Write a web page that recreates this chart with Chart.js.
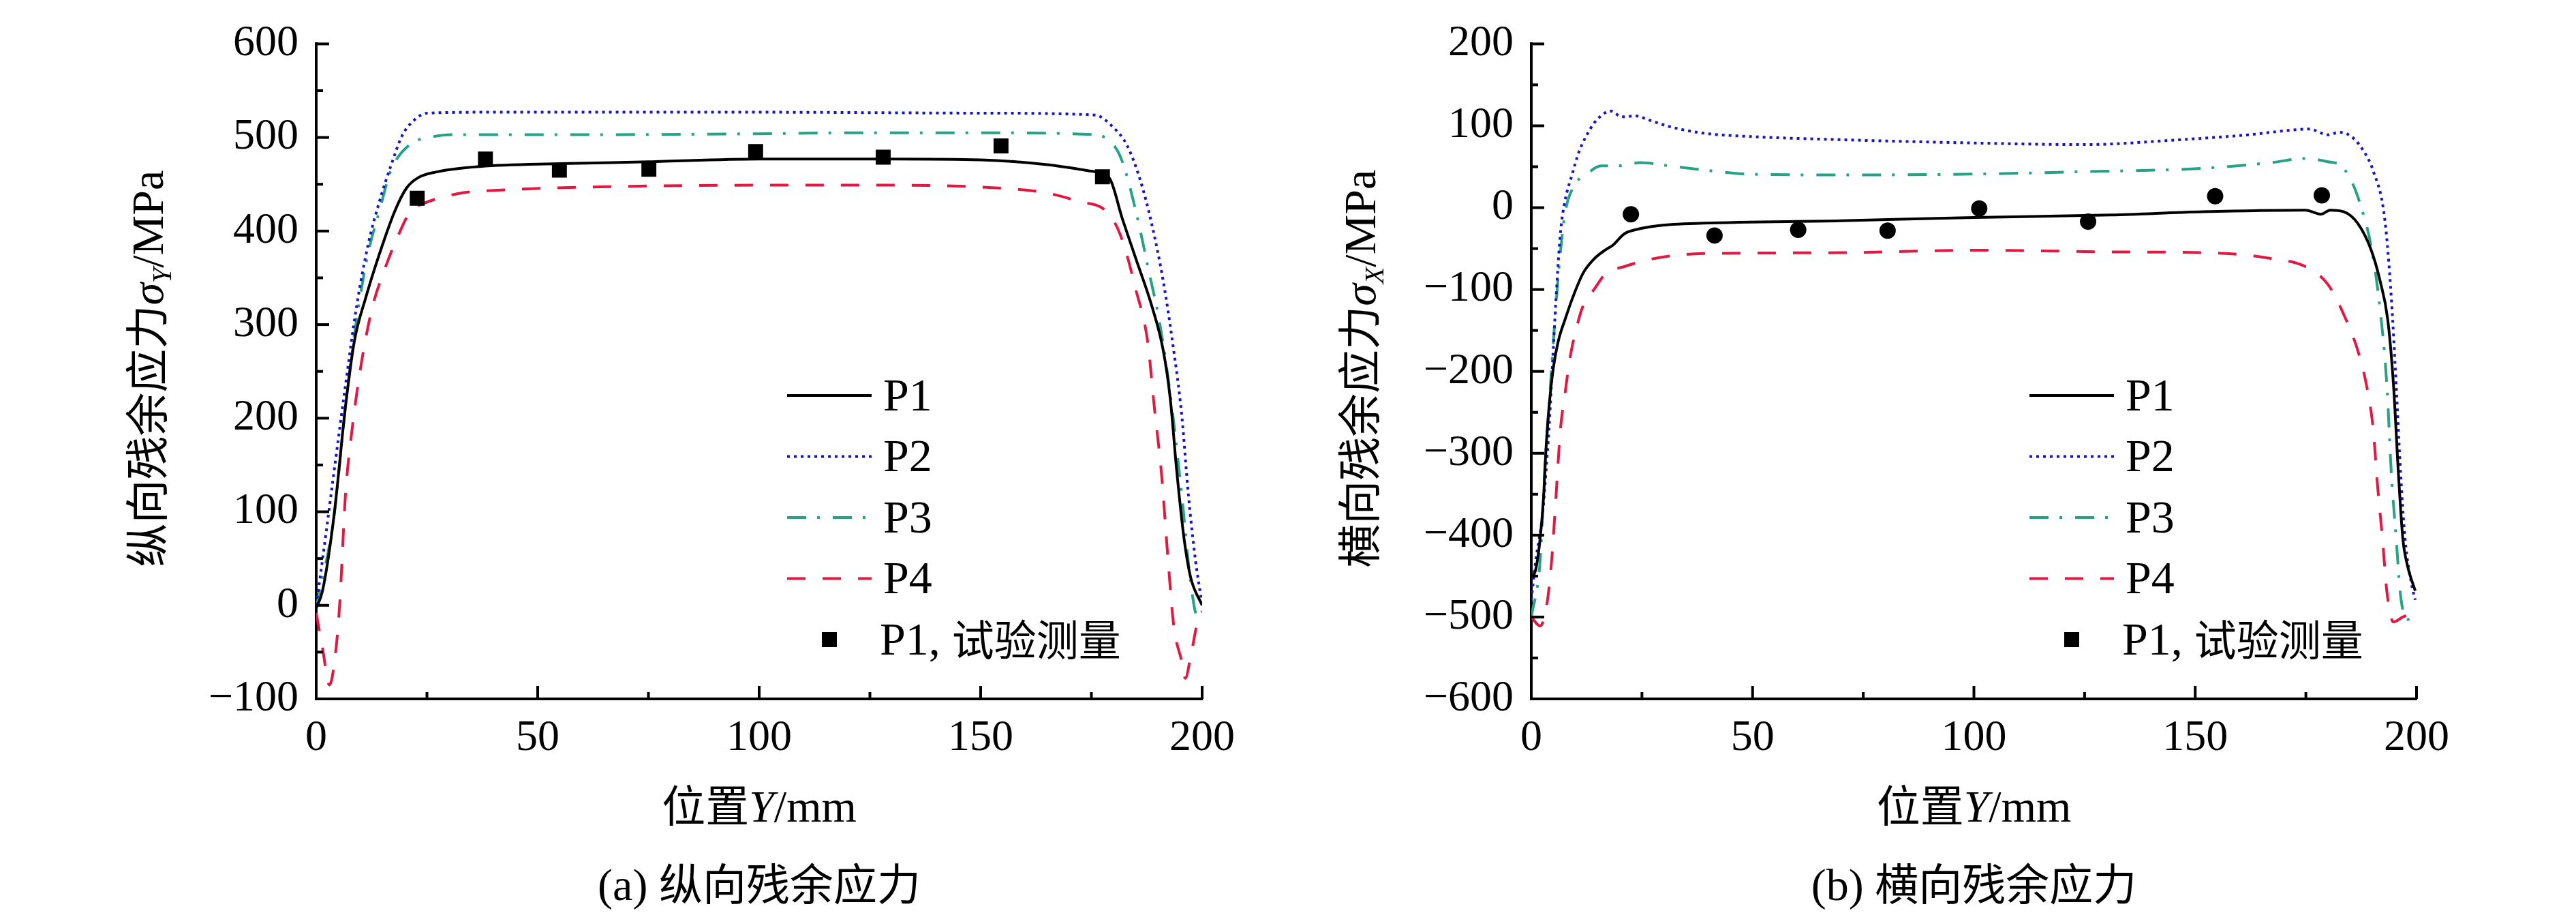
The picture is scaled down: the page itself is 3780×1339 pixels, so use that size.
<!DOCTYPE html>
<html>
<head>
<meta charset="utf-8">
<script src="https://cdn.jsdelivr.net/npm/chart.js@4/dist/chart.umd.min.js"></script>
<style>
  html, body { margin: 0; padding: 0; background: #fff; }
  #wrap { position: relative; width: 3780px; height: 1339px; }
  canvas { position: absolute; top: 0; }
</style>
</head>
<body>
<div id="wrap">
  <canvas id="longChart" width="1890" height="1339" style="left:0"></canvas>
  <canvas id="transChart" width="1890" height="1339" style="left:1890px"></canvas>
</div>
<script>
// ---- (a) longitudinal residual stress, sigma_Y
var longP1X = [0, 1.4, 4, 6.6, 8.6, 11.2, 14.3, 17.8, 20.4, 23, 27, 37, 55, 75, 100, 130, 150, 165, 175, 179, 182, 185, 188.7, 191.2, 192.8, 194.3, 195.9, 197.4, 200];
var longP1Y = [-3, 15, 95, 212, 282, 329, 376, 422, 446, 457, 463, 469, 472, 474, 477, 477, 476, 471, 464, 457, 413, 371, 319, 273, 221, 142, 72, 30, 0];
var longP2X = [0, 1.4, 4, 6.6, 9.1, 11.7, 14.3, 16.8, 19.4, 22, 25, 40, 100, 150, 175.8, 179.9, 183, 186, 188.6, 191.2, 193.3, 195.4, 196.9, 198.5, 200];
var longP2Y = [0, 48, 142, 235, 319, 385, 432, 469, 502, 518, 526, 527, 527, 526, 524, 511, 492, 455, 408, 347, 282, 203, 118, 48, 1];
var longP3X = [0, 4, 6.6, 9.1, 11.7, 14.3, 16.8, 21, 25.5, 32, 60, 100, 120, 150, 175.8, 180, 182, 185, 188.2, 190.3, 192.8, 195.4, 197.4, 199, 200];
var longP3Y = [-3, 95, 212, 305, 376, 422, 464, 492, 500, 503, 503, 504, 505, 505, 503, 492, 474, 422, 352, 305, 226, 118, 25, -13, -8];
var longP4X = [0, 1.4, 3, 4.5, 5.3, 6.6, 8.1, 10.2, 12.7, 15.3, 18.4, 21.4, 24, 32, 42.5, 73, 100, 130, 154, 164.6, 171.8, 179, 182, 185, 187.7, 189.2, 190.8, 192.3, 193.6, 195.4, 196.2, 197.4, 199, 200];
var longP4Y = [-8, -45, -85, -45, 1, 118, 188, 259, 319, 357, 394, 422, 429, 440, 444, 448, 449, 449, 446, 441, 432, 418, 390, 338, 282, 212, 142, 49, -22, -60, -78, -55, -17, -6];
var longTestX = [22.8, 38.2, 54.9, 75.1, 99.2, 128, 154.6, 177.5];
var longTestY = [435, 477, 465, 466, 485, 479, 491, 458];

// ---- (b) transverse residual stress, sigma_X
var transP1X = [0, 1, 2, 2.8, 3.3, 4, 5, 6.1, 7.6, 9.7, 11.7, 14.3, 16.9, 18.4, 21, 23.5, 28.7, 38.9, 70, 100, 131, 151.7, 174.9, 178.4, 180.5, 183.6, 186.7, 189.7, 191.7, 193.5, 194.8, 195.9, 196.9, 197.9, 199.7];
var transP1Y = [-452, -442, -404, -351, -297, -244, -195, -163, -137, -105, -80, -62, -51, -46, -32, -27, -22, -19, -16, -12, -9, -5, -3, -8, -3, -5, -19, -51, -88, -137, -217, -324, -404, -436, -468];
var transP2X = [0, 1, 2.5, 3.3, 4, 4.8, 5.6, 6.6, 7.6, 9.2, 10.7, 13.3, 15.3, 17.9, 20.5, 23.5, 26.6, 31.2, 38.9, 49, 70, 100, 125, 146.6, 162, 172.3, 175.8, 180, 182.5, 185, 187.7, 190.2, 192.8, 194.3, 195.4, 196.4, 197.4, 199, 199.7];
var transP2Y = [-479, -431, -377, -324, -270, -190, -110, -30, 8, 40, 67, 96, 110, 118, 111, 112, 107, 99, 91, 87, 83, 79, 77, 83, 89, 95, 96, 89, 92, 88, 72, 45, -13, -110, -217, -324, -404, -463, -479];
var transP3X = [0, 2, 3, 4, 5, 6.1, 7.6, 9.7, 12.3, 15.8, 19.4, 24.6, 31.2, 38.9, 49, 70, 100, 125, 151.7, 167, 174.9, 180, 183, 185.6, 187.7, 189.7, 191.7, 193.3, 194.3, 195.4, 196.4, 197.9, 200];
var transP3Y = [-500, -431, -324, -244, -163, -83, -8, 27, 40, 51, 51, 55, 51, 46, 41, 40, 41, 44, 48, 55, 60, 56, 51, 29, -3, -46, -121, -217, -324, -404, -474, -503, -498];
var transP4X = [0, 2, 3.5, 4.6, 5.6, 6.6, 7.6, 8.7, 10.2, 11.7, 14.3, 16.9, 21, 26.1, 31.2, 38.9, 70, 100, 131, 157, 167, 174.9, 180, 183.6, 186.7, 188.7, 190.2, 191.2, 192.3, 193.3, 194.8, 196.9, 199.5];
var transP4Y = [-500, -511, -485, -431, -351, -270, -228, -185, -147, -120, -99, -80, -72, -64, -59, -56, -55, -52, -54, -56, -62, -72, -94, -131, -174, -217, -270, -340, -404, -469, -506, -500, -495];
var transTestX = [22.5, 41.4, 60.3, 80.5, 101.2, 125.8, 154.5, 178.6];
var transTestY = [-8, -34, -27, -28, -1, -17, 14, 15];

var seriesNames = ['P1', 'P2', 'P3', 'P4'];
var testName = ['P1, ', '试验测量'];

var SERIF = "'Liberation Serif', 'Times New Roman', serif";
var CJK = "'Noto Sans CJK SC', sans-serif";

function pts(xs, ys) {
    return xs.map(function (x, i) { return { x: x, y: ys[i] }; });
}

// draw a run of differently styled text pieces centred on (cx, cy)
function drawRich(ctx, parts, cx, cy, angle) {
    ctx.save();
    ctx.translate(cx, cy);
    if (angle) ctx.rotate(angle);
    ctx.textBaseline = 'alphabetic';
    ctx.textAlign = 'left';
    var total = 0;
    parts.forEach(function (p) { ctx.font = p.font; p.w = ctx.measureText(p.t).width; total += p.w; });
    var x = -total / 2;
    parts.forEach(function (p) {
        ctx.font = p.font;
        ctx.fillStyle = '#000';
        ctx.fillText(p.t, x, 22 + (p.dy || 0));
        x += p.w;
    });
    ctx.restore();
}

var decorPlugin = {
    id: 'decor',
    afterDraw: function (chart) {
        var o = chart.options.plugins.decor;
        var ctx = chart.ctx, a = chart.chartArea;
        var xs = chart.scales.x, ys = chart.scales.y;
        ctx.save();
        ctx.strokeStyle = '#000';
        ctx.lineWidth = 4;
        ctx.setLineDash([]);
        // inward ticks
        for (var v = xs.min; v <= xs.max; v += 25) {
            var px = xs.getPixelForValue(v);
            var len = (v % 50 === 0) ? 19 : 10;
            ctx.beginPath(); ctx.moveTo(px, a.bottom); ctx.lineTo(px, a.bottom - len); ctx.stroke();
        }
        for (var w = ys.min; w <= ys.max; w += 50) {
            var py = ys.getPixelForValue(w);
            var l2 = (w % 100 === 0) ? 19 : 10;
            ctx.beginPath(); ctx.moveTo(a.left, py); ctx.lineTo(a.left + l2, py); ctx.stroke();
        }
        ctx.restore();

        var cx = (a.left + a.right) / 2, cy = (a.top + a.bottom) / 2;
        // y title
        drawRich(ctx, [
            { t: o.yTitle, font: '64px ' + CJK },
            { t: 'σ', font: 'italic 66px ' + SERIF },
            { t: o.ySub, font: 'italic 40px ' + SERIF, dy: 12 },
            { t: '/MPa', font: '66px ' + SERIF }
        ], o.yTitleX, cy - 4, -Math.PI / 2);
        // x title
        drawRich(ctx, [
            { t: '位置', font: '64px ' + CJK },
            { t: 'Y', font: 'italic 66px ' + SERIF },
            { t: '/mm', font: '66px ' + SERIF }
        ], cx, 1183, 0);
        // caption
        drawRich(ctx, [
            { t: o.capTag, font: '66px ' + SERIF },
            { t: o.caption, font: '64px ' + CJK }
        ], cx, 1298, 0);

        // legend
        var lx = o.legendX, ly = 580, step = 89.5;
        chart.data.datasets.forEach(function (ds) {
            if (ds.testSet) return;
            var idx = seriesNames.indexOf(ds.label);
            var y = ly + idx * step;
            ctx.save();
            ctx.strokeStyle = ds.borderColor;
            ctx.lineWidth = ds.borderWidth;
            ctx.setLineDash(ds.borderDash || []);
            ctx.beginPath(); ctx.moveTo(lx, y); ctx.lineTo(lx + 124, y); ctx.stroke();
            ctx.restore();
            ctx.save();
            ctx.font = '68px ' + SERIF;
            ctx.fillStyle = '#000';
            ctx.textBaseline = 'middle';
            ctx.fillText(ds.label, lx + 141, y + 4);
            ctx.restore();
        });
        var my = ly + 4 * step;
        ctx.save();
        ctx.fillStyle = '#000';
        ctx.fillRect(lx + 51, my - 11, 22, 22);
        ctx.textBaseline = 'middle';
        ctx.font = '68px ' + SERIF;
        ctx.fillText(testName[0], lx + 136, my + 4);
        var tw = ctx.measureText(testName[0]).width;
        ctx.font = '62px ' + CJK;
        ctx.fillText(testName[1], lx + 136 + tw, my);
        ctx.restore();
    }
};

function lineSet(label, data, color, dash) {
    return {
        label: label, data: data, showLine: true, pointRadius: 0,
        borderColor: color, backgroundColor: color, borderWidth: 4,
        borderDash: dash, cubicInterpolationMode: 'monotone', order: 2
    };
}

function makeChart(id, sets, test, marker, yMin, yMax, yWidth, padRight, decor) {
    var datasets = [
        lineSet(seriesNames[0], pts(sets[0][0], sets[0][1]), '#000000', []),
        lineSet(seriesNames[1], pts(sets[1][0], sets[1][1]), '#1414c8', [4, 6]),
        lineSet(seriesNames[2], pts(sets[2][0], sets[2][1]), '#26a284', [28, 16, 4, 19]),
        lineSet(seriesNames[3], pts(sets[3][0], sets[3][1]), '#e3173f', [27, 25]),
        {
            label: 'P1, 试验测量', testSet: true, data: pts(test[0], test[1]),
            showLine: false, pointStyle: marker, pointRadius: marker === 'rect' ? 15.5 : 12,
            backgroundColor: '#000', borderColor: '#000', borderWidth: 0, order: 0
        }
    ];
    return new Chart(document.getElementById(id).getContext('2d'), {
        type: 'scatter',
        data: { datasets: datasets },
        options: {
            responsive: false,
            animation: false,
            devicePixelRatio: 1,
            layout: { padding: { left: 0, top: 34, right: padRight, bottom: 204 } },
            plugins: { legend: { display: false }, tooltip: { enabled: false }, decor: decor },
            scales: {
                x: {
                    type: 'linear', min: 0, max: 200,
                    grid: { display: false, drawTicks: false },
                    border: { display: true, color: '#000', width: 4 },
                    ticks: { stepSize: 50, padding: 20, color: '#000', font: { family: SERIF, size: 64 } },
                    afterFit: function (s) { s.height = 110; }
                },
                y: {
                    type: 'linear', min: yMin, max: yMax,
                    grid: { display: false, drawTicks: false },
                    border: { display: true, color: '#000', width: 4 },
                    ticks: {
                        stepSize: 100, padding: 26, color: '#000', font: { family: SERIF, size: 64 },
                        callback: function (v) { return String(v).replace('-', '\u2212'); }
                    },
                    afterFit: function (s) { s.width = yWidth; }
                }
            }
        },
        plugins: [decorPlugin]
    });
}

makeChart('longChart',
    [[longP1X, longP1Y], [longP2X, longP2Y], [longP3X, longP3Y], [longP4X, longP4Y]],
    [longTestX, longTestY], 'rect', -100, 600, 464, 126,
    { yTitle: '纵向残余应力', ySub: 'Y', yTitleX: 217, capTag: '(a) ', caption: '纵向残余应力', legendX: 1155 });

makeChart('transChart',
    [[transP1X, transP1Y], [transP2X, transP2Y], [transP3X, transP3Y], [transP4X, transP4Y]],
    [transTestX, transTestY], 'circle', -600, 200, 357, 234,
    { yTitle: '横向残余应力', ySub: 'X', yTitleX: 106, capTag: '(b) ', caption: '横向残余应力', legendX: 1088 });
</script>
</body>
</html>
